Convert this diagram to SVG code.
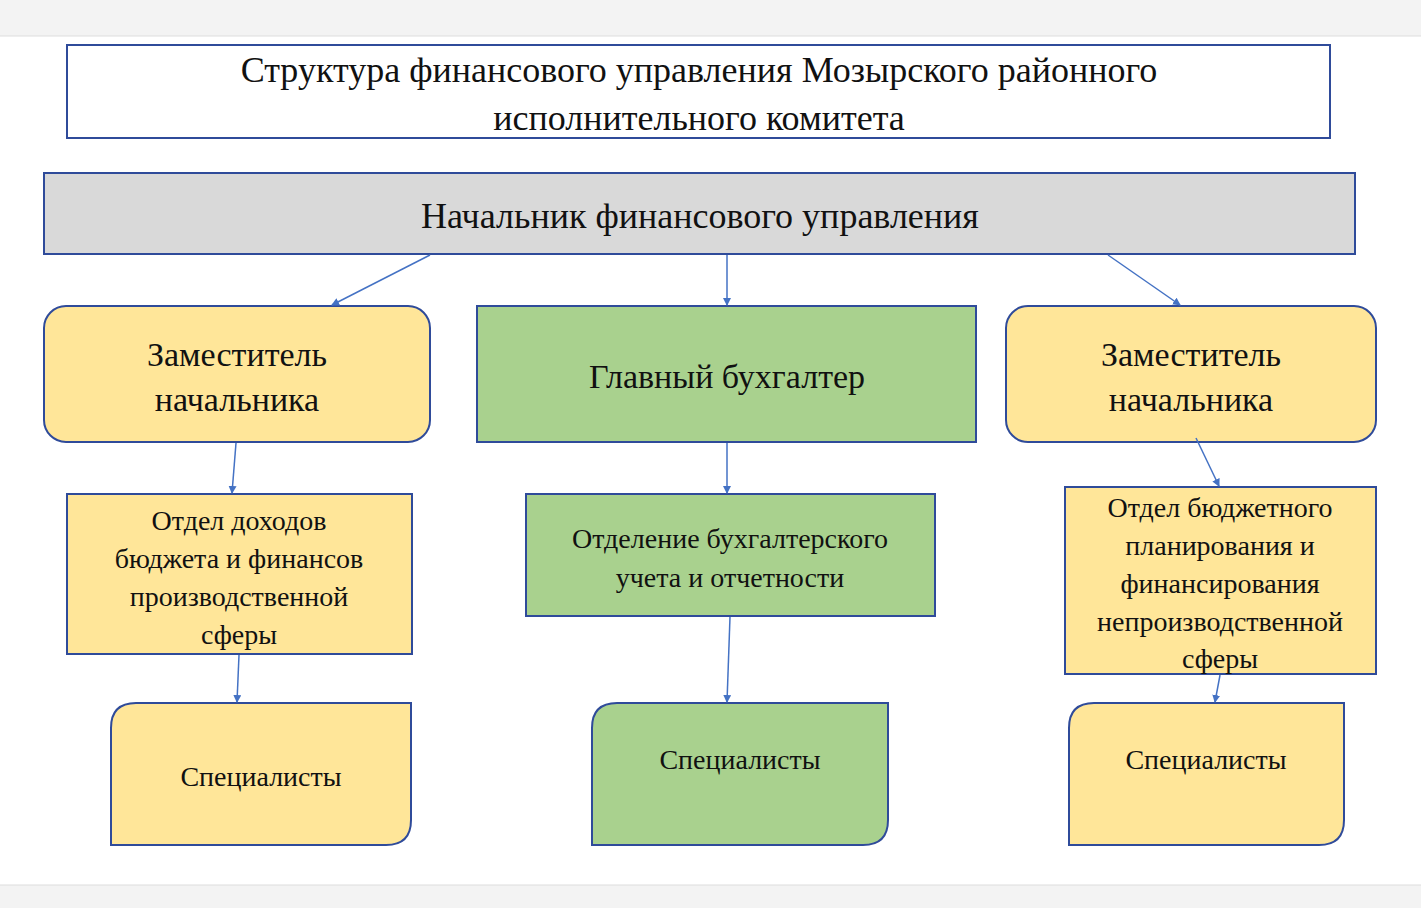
<svg xmlns="http://www.w3.org/2000/svg" width="1421" height="908" viewBox="0 0 1421 908">
<style>
text{font-family:"Liberation Serif","DejaVu Serif",serif;fill:#111;text-anchor:middle}
.b{stroke:#2F4B9A;stroke-width:2}
.y{fill:#FFE699}.g{fill:#A9D18E}
.c line{stroke:#4472C4;stroke-width:1.5;marker-end:url(#a)}
</style>
<defs><marker id="a" markerWidth="8" markerHeight="8" refX="7" refY="4" orient="auto" markerUnits="userSpaceOnUse"><path d="M0,0L8,4L0,8z" fill="#4472C4"/></marker></defs>
<rect width="1421" height="908" fill="#fff"/>
<rect width="1421" height="36" fill="#f3f3f3"/><line x1="0" y1="36" x2="1421" y2="36" stroke="#ddd"/>
<rect y="885" width="1421" height="23" fill="#f3f3f3"/><line x1="0" y1="885" x2="1421" y2="885" stroke="#ddd"/>
<g id="title"><rect x="67" y="45" width="1263" height="93" fill="#fff" class="b"/>
<text x="699" y="82" font-size="36">Структура финансового управления Мозырского районного</text>
<text x="699" y="130" font-size="36">исполнительного комитета</text></g>
<g id="head"><rect x="44" y="173" width="1311" height="81" fill="#D9D9D9" class="b"/>
<text x="700" y="228" font-size="36">Начальник финансового управления</text></g>
<g id="dep1"><rect x="44" y="306" width="386" height="136" rx="22" class="y b"/>
<text x="237" y="366" font-size="34">Заместитель</text><text x="237" y="411" font-size="34">начальника</text></g>
<g id="chief"><rect x="477" y="306" width="499" height="136" class="g b"/>
<text x="727" y="388" font-size="34">Главный бухгалтер</text></g>
<g id="dep2"><rect x="1006" y="306" width="370" height="136" rx="22" class="y b"/>
<text x="1191" y="366" font-size="34">Заместитель</text><text x="1191" y="411" font-size="34">начальника</text></g>
<g id="d1"><rect x="67" y="494" width="345" height="160" class="y b"/>
<g font-size="28"><text x="239" y="530">Отдел доходов</text><text x="239" y="568">бюджета и финансов</text><text x="239" y="606">производственной</text><text x="239" y="644">сферы</text></g></g>
<g id="d2"><rect x="526" y="494" width="409" height="122" class="g b"/>
<g font-size="28"><text x="730" y="548">Отделение бухгалтерского</text><text x="730" y="587">учета и отчетности</text></g></g>
<g id="d3"><rect x="1065" y="487" width="311" height="187" class="y b"/>
<g font-size="28"><text x="1220" y="517">Отдел бюджетного</text><text x="1220" y="555">планирования и</text><text x="1220" y="593">финансирования</text><text x="1220" y="631">непроизводственной</text><text x="1220" y="668">сферы</text></g></g>
<g id="s1"><path d="M136,703H411V820Q411,845 386,845H111V728Q111,703 136,703Z" class="y b"/>
<text x="261" y="786" font-size="28">Специалисты</text></g>
<g id="s2"><path d="M617,703H888V820Q888,845 863,845H592V728Q592,703 617,703Z" class="g b"/>
<text x="740" y="769" font-size="28">Специалисты</text></g>
<g id="s3"><path d="M1094,703H1344V820Q1344,845 1319,845H1069V728Q1069,703 1094,703Z" class="y b"/>
<text x="1206" y="769" font-size="28">Специалисты</text></g>
<g class="c">
<line x1="430" y1="255" x2="332" y2="305"/><line x1="727" y1="255" x2="727" y2="305"/><line x1="1108" y1="255" x2="1180" y2="305"/>
<line x1="236" y1="443" x2="232" y2="493"/><line x1="727" y1="443" x2="727" y2="493"/><line x1="1196" y1="438" x2="1219" y2="486"/>
<line x1="239" y1="655" x2="237" y2="702"/><line x1="730" y1="617" x2="727" y2="702"/><line x1="1220" y1="675" x2="1215" y2="702"/>
</g>
</svg>
